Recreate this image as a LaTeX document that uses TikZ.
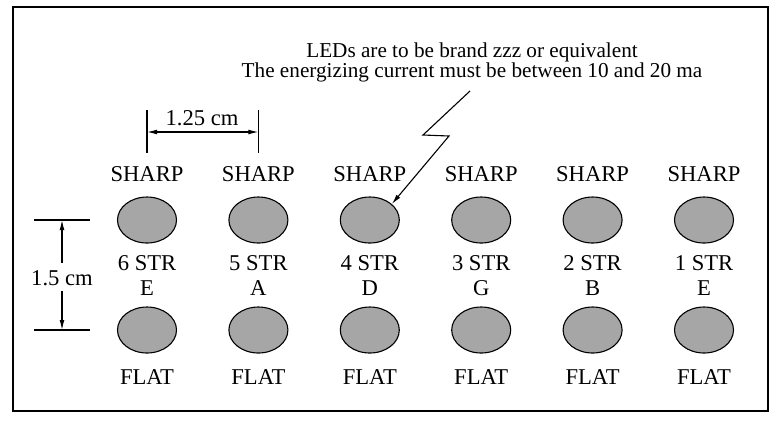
\documentclass[tikz,border=0pt]{standalone}
\usepackage{fontspec}
\setmainfont{Liberation Serif}
\usetikzlibrary{shapes.geometric, arrows.meta, positioning, calc}

\begin{document}
\begin{tikzpicture}[
    x=0.5pt, y=-0.5pt,
    >={Latex[length=5pt,width=2.4pt]},
    font=\fontsize{11.3}{10}\selectfont,
    led/.style={ellipse, draw=black, line width=0.55pt, fill=black!35, minimum width=29.5pt, minimum height=23pt, inner sep=0pt},
    lbl/.style={inner sep=0pt, align=center},
    dim/.style={line width=0.55pt, black}
  ]
    \useasboundingbox (0,0) rectangle (776,420);
    \draw[line width=1.1pt] (13,7) rectangle (768,411);
    \foreach \s/\n [count=\i] in {6/E,5/A,4/D,3/G,2/B,1/E} {
      \node[led] (led-t-\i) at ({147+111.4*(\i-1)},220) {};
      \node[led] (led-b-\i) at ({147+111.4*(\i-1)},330) {};
      \node[lbl] (sharp-\i) at ($(led-t-\i)+(0,-46)$) {SHARP};
      \node[lbl] (str-\i) at ($(led-t-\i)+(0,43)$) {\s\ STR};
      \node[lbl] (note-\i) at ($(led-t-\i)+(0,68)$) {\n};
      \node[lbl] (flat-\i) at ($(led-b-\i)+(0,47)$) {FLAT};
    }
    \node[lbl, font=\fontsize{10.6}{10}\selectfont] (spec) at (472,62)
    {LEDs are to be brand zzz or equivalent\\
     The energizing current must be between 10 and 20 ma};
    \coordinate (zz-a) at (470,91);
    \coordinate (zz-b) at (423,135);
    \coordinate (zz-c) at (449,136);
    \draw[dim, ->] (zz-a) -- (zz-b) -- (zz-c) -- (led-t-3.36);
    \coordinate (w-a) at (led-t-1 |- 0,110);
    \coordinate (w-b) at (led-t-2 |- 0,110);
    \draw[dim] (w-a) -- ++(0,43);
    \draw[dim] (w-b) -- ++(0,43);
    \draw[dim, <->] ($(w-a)+(0,22)$) -- ($(w-b)+(0,22)$);
    \node[lbl] (w-txt) at (202,118) {1.25 cm};
    \coordinate (h-a) at (34,220);
    \coordinate (h-b) at (34,330);
    \draw[dim] (h-a) -- ++(56,0);
    \draw[dim] (h-b) -- ++(56,0);
    \node[lbl] (h-txt) at (62,278) {1.5 cm};
    \draw[dim, ->] ($(h-txt.north)+(0,-7)$) -- (h-txt.north |- h-a);
    \draw[dim, ->] ($(h-txt.south)+(0,5)$) -- (h-txt.south |- h-b);
  \end{tikzpicture}
\end{document}
